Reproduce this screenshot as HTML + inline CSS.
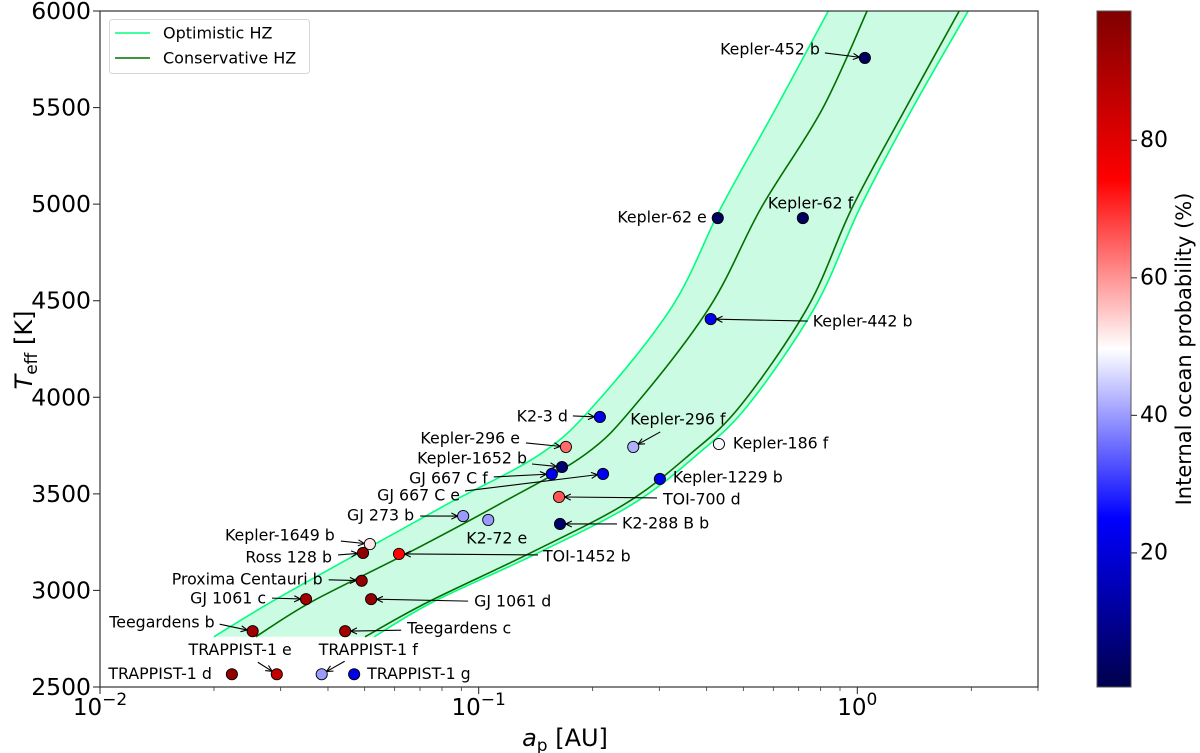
<!DOCTYPE html>
<html>
<head>
<meta charset="utf-8">
<style>
html,body{margin:0;padding:0;background:#fff;}
svg{display:block;font-family:"DejaVu Sans","Liberation Sans",sans-serif;}
</style>
</head>
<body>
<svg id="chart" width="1200" height="753" viewBox="0 0 1200 753" xmlns="http://www.w3.org/2000/svg">
  <defs>
    <clipPath id="plotClip"><rect x="100" y="11" width="938" height="676"/></clipPath>
    <linearGradient id="cbGrad" x1="0" y1="0" x2="0" y2="1"></linearGradient>
  </defs>
  <g id="hz" clip-path="url(#plotClip)"></g>
  <g id="arrows"></g>
  <g id="points"></g>
  <g id="labels" font-size="15.8" fill="#000"></g>
  <rect x="100" y="11" width="938" height="676" fill="none" stroke="#333" stroke-width="1.2"/>
  <g id="xaxis"></g>
  <g id="yaxis"></g>
  <text x="565" y="746" font-size="24" text-anchor="middle"><tspan font-style="italic">a</tspan><tspan font-size="17" dy="5">p</tspan><tspan dy="-5"> [AU]</tspan></text>
  <text transform="translate(32,350) rotate(-90)" font-size="24" text-anchor="middle"><tspan font-style="italic">T</tspan><tspan font-size="17" dy="5">eff</tspan><tspan dy="-5"> [K]</tspan></text>
  <g id="legend">
    <rect x="109.5" y="19.5" width="200" height="54" rx="3" fill="#fff" fill-opacity="0.85" stroke="#d6d6d6"/>
    <line x1="115" y1="33" x2="150" y2="33" stroke="#00ff7f" stroke-width="1.6"/>
    <text x="163" y="33" dominant-baseline="central" font-size="16">Optimistic HZ</text>
    <line x1="115" y1="58" x2="150" y2="58" stroke="#007000" stroke-width="1.6"/>
    <text x="163" y="58" dominant-baseline="central" font-size="16">Conservative HZ</text>
  </g>
  <g id="colorbar"></g>
  <text transform="translate(1184,349) rotate(-90)" font-size="21" text-anchor="middle" dominant-baseline="central">Internal ocean probability (%)</text>
</svg>
<script>
// ---------- data ----------
const hzTeff = [6000, 5490, 4980, 4469, 3960, 3704, 3449, 3194, 2940, 2760];
const optInnerA = [0.838, 0.607, 0.436, 0.324, 0.202, 0.145, 0.083, 0.0483, 0.0283, 0.0200];
const consInnerA = [1.061, 0.807, 0.557, 0.408, 0.259, 0.191, 0.114, 0.0651, 0.0361, 0.0258];
const consOuterA = [1.858, 1.336, 0.968, 0.741, 0.493, 0.361, 0.244, 0.137, 0.0735, 0.0501];
const optOuterA = [1.963, 1.393, 1.016, 0.774, 0.515, 0.378, 0.256, 0.1435, 0.0757, 0.0530];

const planetNames = ["Kepler-452 b","Kepler-62 e","Kepler-62 f","Kepler-442 b","K2-3 d","Kepler-296 e","Kepler-296 f","Kepler-186 f","Kepler-1652 b","GJ 667 C f","GJ 667 C e","Kepler-1229 b","TOI-700 d","GJ 273 b","K2-72 e","K2-288 B b","TOI-1452 b","Kepler-1649 b","Ross 128 b","Proxima Centauri b","GJ 1061 c","GJ 1061 d","Teegardens b","Teegardens c","TRAPPIST-1 d","TRAPPIST-1 e","TRAPPIST-1 f","TRAPPIST-1 g"];
const planetA = [1.047,0.428,0.718,0.410,0.209,0.170,0.256,0.431,0.166,0.156,0.213,0.301,0.163,0.0910,0.106,0.164,0.0616,0.0516,0.0495,0.0491,0.035,0.0520,0.0253,0.0444,0.0223,0.0293,0.0385,0.0469];
const planetTeff = [5757,4928,4928,4405,3898,3743,3743,3758,3639,3603,3603,3577,3484,3385,3365,3344,3189,3240,3194,3050,2955,2955,2789,2789,2566,2566,2566,2566];
const planetProb = [3,3,3,22,22,64,42,49,6,23,23,22,66,40,40,5,74,52,96,95,92,95,93,92,95,86,40,22];

const xTickValues = [0.01, 0.1, 1];
const xTickExps = ["−2", "−1", "0"];
const yTickValues = [2500, 3000, 3500, 4000, 4500, 5000, 5500, 6000];
const cbTickValues = [20, 40, 60, 80];

// ---------- label layout (offsets from point, px) ----------
const labelLayout = [
 [-45,-9,"end",-40,-5],[-11,-1,"end",null,null],[-35,-15,"start",null,null],[102,2,"start",97,2],
 [-32,-1,"end",-27,-1],[-46,-9,"end",-40,-4],[-3,-28,"start",27,-15],[14,-1,"start",null,null],
 [-35,-9,"end",-30,-3],[-64,4,"end",-58,3],[-143,21,"end",-138,17],[13,-2,"start",null,null],
 [104,2,"start",98,1],[-49,-1,"end",-43,0],[-22,18,"start",null,null],[62,-1,"start",57,0],
 [144,2,"start",139,1],[-35,-9,"end",-29,-3],[-31,4,"end",-25,2],[-39,-2,"end",-33,-1],
 [-40,-1,"end",-34,-1],[103,2,"start",97,2],[-38,-9,"end",-33,-7],[62,-3,"start",56,-1],
 [-20,-1,"end",null,null],[15,-25,"end",-19,-12],[-3,-25,"start",23,-13],[13,-1,"start",null,null]
];

// ---------- scales ----------
const X0=100, X1=1038, Y0=11, Y1=687;
const xMin=Math.log10(0.01), xMax=Math.log10(3);
const yMin=2500, yMax=6000;
const vMin=0.5, vMax=98.8;
function sx(a){return X0+(Math.log10(a)-xMin)/(xMax-xMin)*(X1-X0);}
function sy(t){return Y1-(t-yMin)/(yMax-yMin)*(Y1-Y0);}
function seismic(p){
  let t=(p-vMin)/(vMax-vMin); t=Math.max(0,Math.min(1,t));
  let r,g,b;
  if(t<0.25){r=0;g=0;b=0.3+0.7*t/0.25;}
  else if(t<0.5){const s=(t-0.25)/0.25;r=s;g=s;b=1;}
  else if(t<0.75){const s=(t-0.5)/0.25;r=1;g=1-s;b=1-s;}
  else {const s=(t-0.75)/0.25;r=1-0.5*s;g=0;b=0;}
  return `rgb(${Math.round(r*255)},${Math.round(g*255)},${Math.round(b*255)})`;
}
const NS="http://www.w3.org/2000/svg";
function mk(tag,attrs,parent){const e=document.createElementNS(NS,tag);for(const k in attrs)e.setAttribute(k,attrs[k]);if(parent)parent.appendChild(e);return e;}

function pts(arr){return hzTeff.map((t,i)=>[sx(arr[i]),sy(t)]);}
function smoothPath(p,move){
  let d=(move?"M":"L")+p[0][0].toFixed(2)+","+p[0][1].toFixed(2);
  for(let i=0;i<p.length-1;i++){
    const p0=p[Math.max(0,i-1)],p1=p[i],p2=p[i+1],p3=p[Math.min(p.length-1,i+2)];
    const c1=[p1[0]+(p2[0]-p0[0])/6,p1[1]+(p2[1]-p0[1])/6];
    const c2=[p2[0]-(p3[0]-p1[0])/6,p2[1]-(p3[1]-p1[1])/6];
    d+=`C${c1[0].toFixed(2)},${c1[1].toFixed(2)} ${c2[0].toFixed(2)},${c2[1].toFixed(2)} ${p2[0].toFixed(2)},${p2[1].toFixed(2)}`;
  }
  return d;
}

// ---------- HZ ----------
const hz=document.getElementById('hz');
const oi=pts(optInnerA), oo=pts(optOuterA), ci=pts(consInnerA), co=pts(consOuterA);
const fillD=smoothPath(oi,true)+smoothPath(oo.slice().reverse(),false)+"Z";
const fill=mk('path',{d:fillD,fill:"#ccfbe3",stroke:"none"},hz);


const curves=[[oi,"#00ff7f","optimistic-inner-edge"],[oo,"#00ff7f","optimistic-outer-edge"],[ci,"#007000","conservative-inner-edge"],[co,"#007000","conservative-outer-edge"]];
curves.forEach(c=>{
  const e=mk('path',{d:smoothPath(c[0],true),fill:"none",stroke:c[1],"stroke-width":1.6},hz);
  
  
});

// ---------- points, labels, arrows ----------
const gP=document.getElementById('points'), gL=document.getElementById('labels'), gA=document.getElementById('arrows');
planetNames.forEach((n,i)=>{
  const px=sx(planetA[i]), py=sy(planetTeff[i]);
  const c=mk('circle',{cx:px,cy:py,r:5.6,fill:seismic(planetProb[i]),stroke:"#000","stroke-width":0.9},gP);
  
  
  const L=labelLayout[i];
  const t=mk('text',{x:px+L[0],y:py+L[1],"text-anchor":L[2],"dominant-baseline":"central"},gL);
  t.textContent=n;
  
  
  if(L[3]!==null){
    const x1=px+L[3], y1=py+L[4];
    const dx=px-x1, dy=py-y1, len=Math.hypot(dx,dy), ux=dx/len, uy=dy/len;
    const ex=px-ux*5.5, ey=py-uy*5.5;
    const g=mk('g',{stroke:"#000","stroke-width":1.1,fill:"none"},gA);
    
    
    mk('line',{x1:x1,y1:y1,x2:ex,y2:ey},g);
    const ang=Math.atan2(uy,ux), h=7, w=0.45;
    mk('polyline',{points:`${ex-h*Math.cos(ang-w)},${ey-h*Math.sin(ang-w)} ${ex},${ey} ${ex-h*Math.cos(ang+w)},${ey-h*Math.sin(ang+w)}`},g);
  }
});

// ---------- axes ----------
const gx=document.getElementById('xaxis');
xTickValues.forEach((v,i)=>{
  const x=sx(v);
  const tk=mk('line',{x1:x,y1:Y1,x2:x,y2:Y1+7,stroke:"#333","stroke-width":1.1},gx);
  
  
  const t=mk('text',{x:x,y:715,"font-size":23,"text-anchor":"middle"},gx);
  
  
  const a=mk('tspan',{},t); a.textContent="10";
  const b=mk('tspan',{"font-size":17,dy:-10}); b.textContent=xTickExps[i]; t.appendChild(b);
});
for(let d=-2; d<=0; d++){
  for(let m=2;m<=9;m++){
    const v=m*Math.pow(10,d); if(v>3.0001) break;
    const x=sx(v);
    const tk=mk('line',{x1:x,y1:Y1,x2:x,y2:Y1+4,stroke:"#333","stroke-width":0.8},gx);
    
    
  }
}
const gy=document.getElementById('yaxis');
yTickValues.forEach(v=>{
  const y=sy(v);
  const tk=mk('line',{x1:X0-7,y1:y,x2:X0,y2:y,stroke:"#333","stroke-width":1.1},gy);
  
  
  const t=mk('text',{x:91,y:y,"font-size":23.5,"text-anchor":"end","dominant-baseline":"central"},gy);
  t.textContent=String(v);
  
  
});

// ---------- colorbar ----------
const CB={x:1097,y:11,w:34,h:676};
const grad=document.getElementById('cbGrad');
for(let k=0;k<=40;k++){
  const v=vMax-(vMax-vMin)*k/40;
  mk('stop',{offset:(k/40*100)+"%","stop-color":seismic(v)},grad);
}
const gc=document.getElementById('colorbar');
const cbr=mk('rect',{x:CB.x,y:CB.y,width:CB.w,height:CB.h,fill:"url(#cbGrad)",stroke:"#555","stroke-width":1},gc);


cbTickValues.forEach(v=>{
  const y=CB.y+(vMax-v)/(vMax-vMin)*CB.h;
  const tk=mk('line',{x1:CB.x+CB.w,y1:y,x2:CB.x+CB.w+6,y2:y,stroke:"#333","stroke-width":1.1},gc);
  
  
  const t=mk('text',{x:1140,y:y,"font-size":22,"dominant-baseline":"central"},gc);
  t.textContent=String(v);
  
  
});
</script>
</body>
</html>
